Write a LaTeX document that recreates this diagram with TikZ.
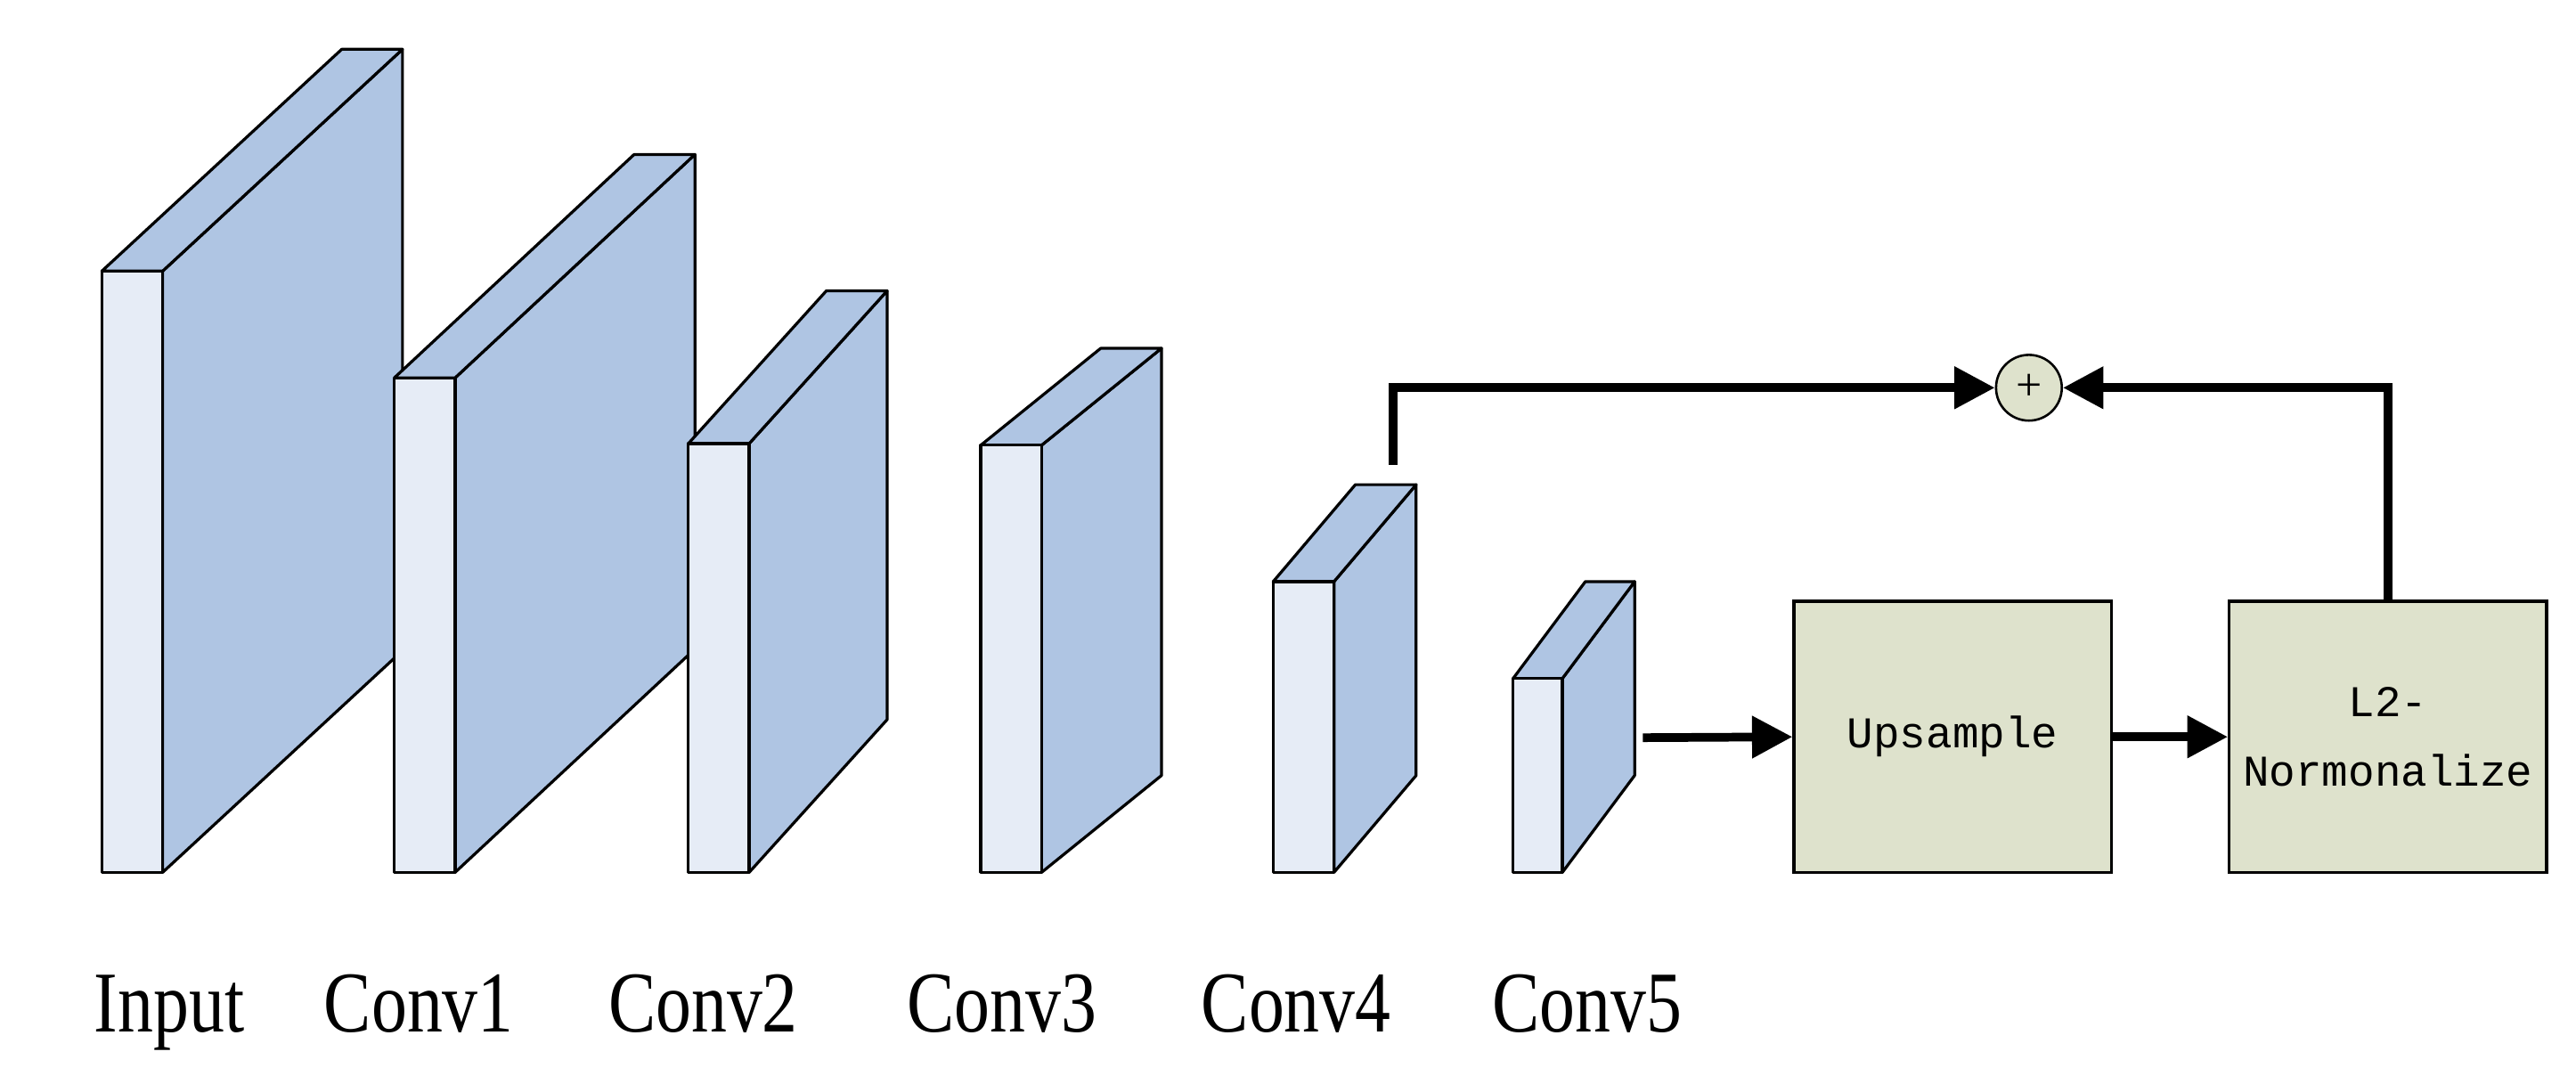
\documentclass[tikz,border=0pt]{standalone}
\usepackage{fontspec}
\setmainfont{Liberation Serif}
\newfontfamily\monof{Liberation Mono}
\usetikzlibrary{arrows.meta}
\definecolor{frontc}{HTML}{E6ECF6}
\definecolor{sidec}{HTML}{AFC5E3}
\definecolor{boxc}{HTML}{DEE2CC}
\tikzset{
  face/.style={draw=black,line width=0.5pt,line join=round},
  box/.style={draw=black,fill=boxc,line width=0.5pt,inner sep=0pt,text width=1.93cm,minimum height=1.65cm,font=\monof\fontsize{7.6}{11}\selectfont,align=center},
  lab/.style={font=\fontsize{15}{17}\selectfont,anchor=base,xscale=0.82},
  arr/.style={line width=1.5pt,-{Triangle[length=7pt,width=7pt]}}
}
\newcommand{\blk}[7]{% x1 x2 ytop ybot dx dy name
  \fill[sidec,face] (#2,#3) -- ({#2+#5},{#3-#6}) -- ({#2+#5},{#4-#6}) -- (#2,#4) -- cycle;
  \fill[sidec,face] (#1,#3) -- ({#1+#5},{#3-#6}) -- ({#2+#5},{#3-#6}) -- (#2,#3) -- cycle;
  \fill[frontc,face] (#1,#3) rectangle (#2,#4);
  \coordinate (#7) at ({(#1+#2)/2},#4);
}
\begin{document}
\begin{tikzpicture}[x=0.01cm,y=-0.01cm]
\useasboundingbox (0,0) rectangle (1568,650);
\blk{62}{99}{165}{531}{146}{135}{b0}
\blk{240}{277}{230}{531}{146}{136}{b1}
\blk{419}{456}{270}{531}{84}{93}{b2}
\blk{597}{634}{271}{531}{73}{59}{b3}
\blk{775}{812}{354}{531}{50}{59}{b4}
\blk{921}{951}{413}{531}{44}{59}{b5}
\node[lab] (l0) at (103,628) {Input};
\node[lab] (l1) at (255,628) {Conv1};
\node[lab] (l2) at (428,628) {Conv2};
\node[lab] (l3) at (610,628) {Conv3};
\node[lab] (l4) at (789,628) {Conv4};
\node[lab] (l5) at (966,628) {Conv5};
\node[box] (up) at (1188.5,448.5) {Upsample};
\node[box] (l2n) at (1453.5,448.5) {L2-\\[1pt]Normonalize};
\node[circle,draw=black,fill=boxc,minimum size=0.4cm,inner sep=0pt,font=\fontsize{8}{9}\selectfont] (plus) at (1235,236) {+};
\coordinate (c5) at (1000,449);
\coordinate (c4) at (848,283);
\draw[arr] (c5) -- (up.west);
\draw[arr] (up.east) -- (l2n.west);
\draw[arr] (l2n.north) |- (plus.east);
\draw[arr] (c4) |- (plus.west);
\end{tikzpicture}
\end{document}
